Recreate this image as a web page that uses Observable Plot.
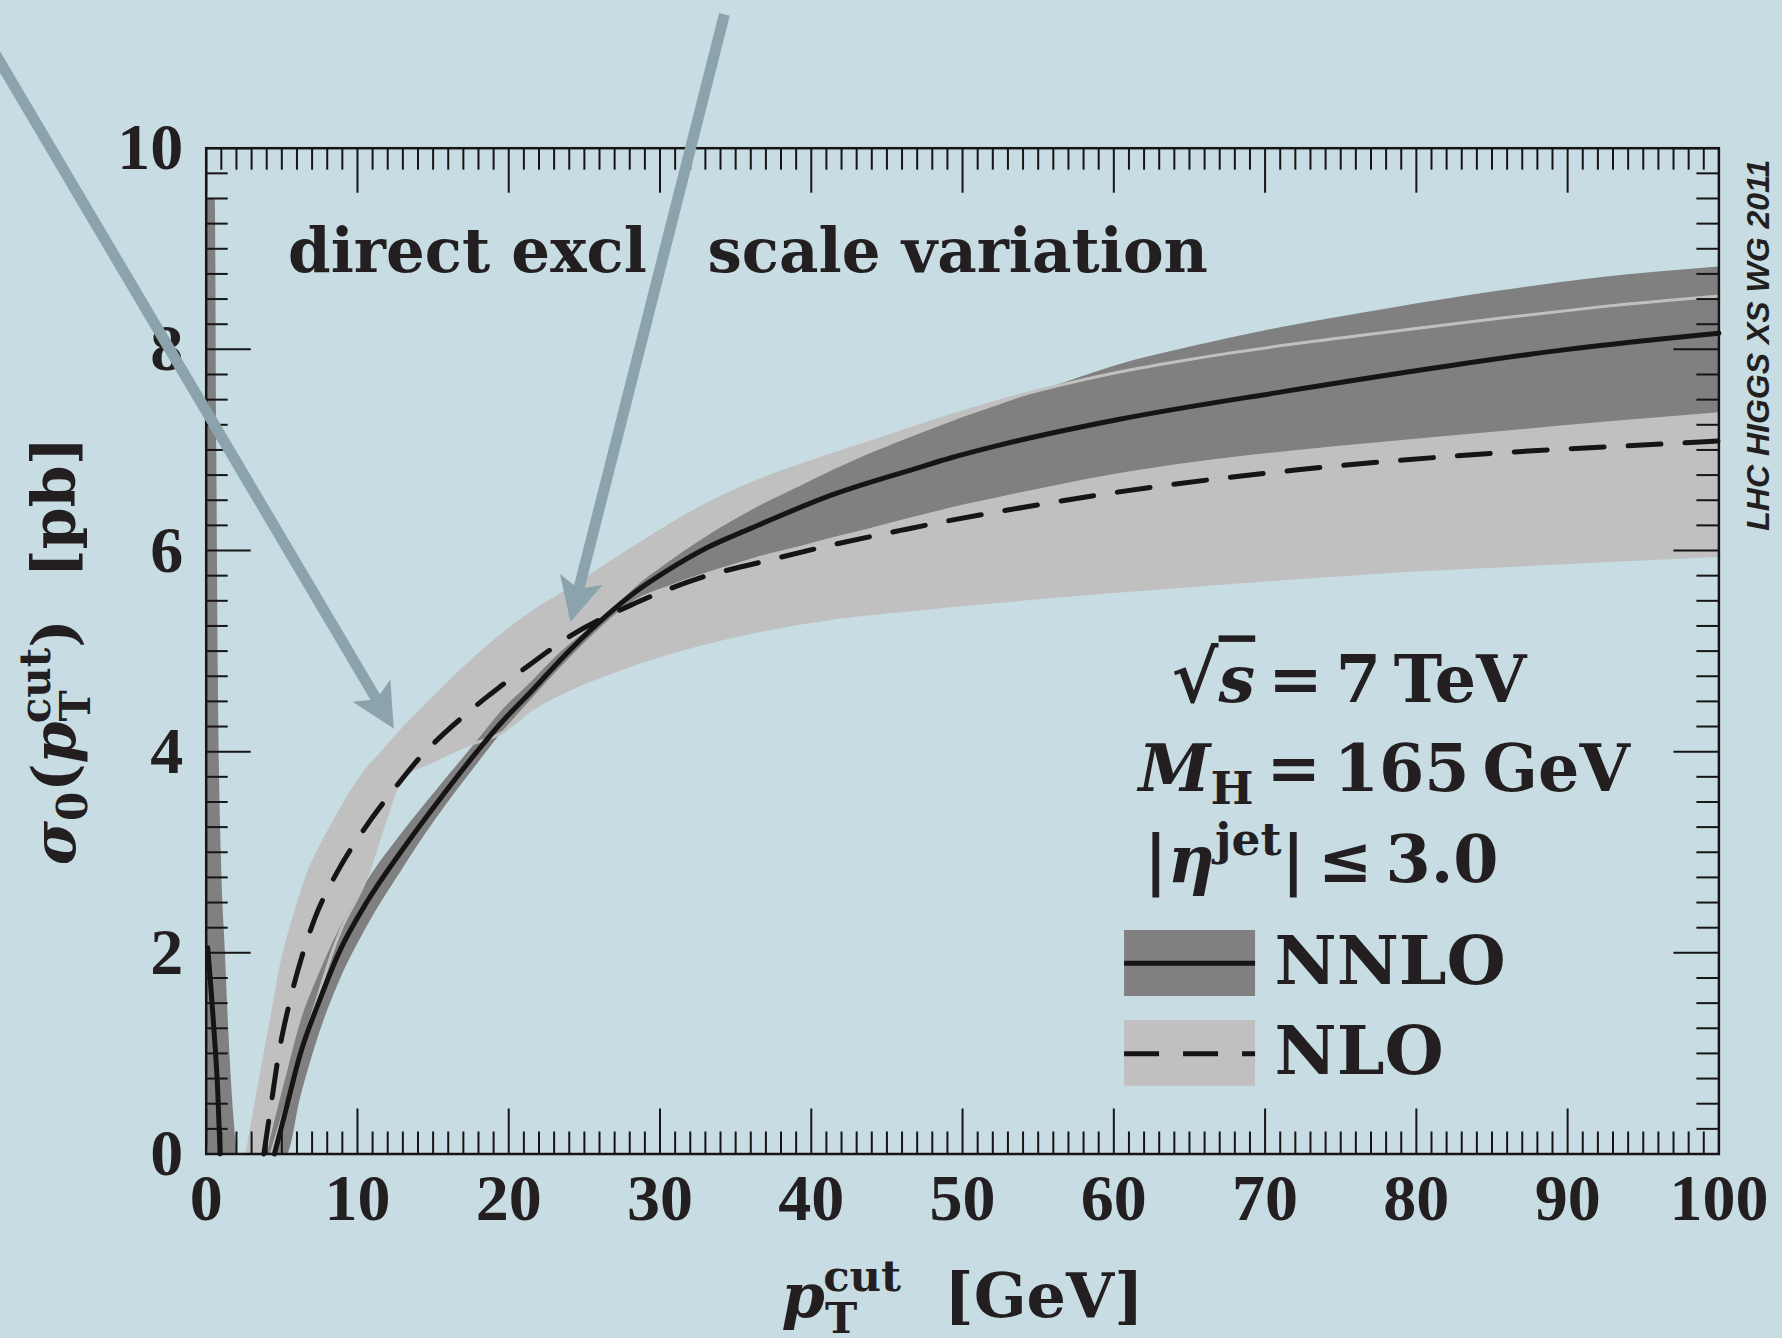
<!DOCTYPE html>
<html>
<head>
<meta charset="utf-8">
<script src="https://cdn.jsdelivr.net/npm/d3@7"></script>
<script src="https://cdn.jsdelivr.net/npm/@observablehq/plot@0.6"></script>
<style>
html, body { margin: 0; padding: 0; background: #c8dce3; overflow: hidden; }
#chart svg { display: block; }
</style>
</head>
<body>
<div id="chart"></div>
<script>
// ---------- data ----------
// NNLO central value (solid): low-pT branch and main branch
const nnloLowPt    = [0.1, 0.5, 0.77, 0.92];
const nnloLowSigma = [2.05, 1.26, 0.6, 0];
const nnloPt    = [4.51, 5.2, 6.23, 7.5, 8.77, 10.6, 12.85, 15.2, 17.9, 19.46, 21.5, 23.4, 26.07, 28.3, 30.47, 33, 36, 41.5, 47, 49.2, 52.5, 60.2, 71.2, 82.3, 90, 100];
const nnloSigma = [0, 0.4, 1.0, 1.53, 2.0, 2.5, 3.0, 3.48, 4.0, 4.28, 4.6, 4.91, 5.3, 5.58, 5.8, 6.02, 6.22, 6.56, 6.82, 6.92, 7.05, 7.3, 7.58, 7.84, 8.0, 8.16];

// NLO central value (dashed)
const nloPt    = [3.81, 4.3, 4.8, 5.5, 6.3, 7.2, 8.65, 10.4, 12.85, 14.0, 15.5, 17.0, 18.6, 19.46, 21.7, 23.86, 28.27, 32.7, 37.1, 41.5, 45.9, 49.2, 51.4, 60.2, 72, 84.4, 97.6, 100];
const nloSigma = [0, 0.5, 1.0, 1.5, 1.95, 2.35, 2.8, 3.22, 3.71, 3.92, 4.15, 4.35, 4.55, 4.65, 4.9, 5.13, 5.47, 5.73, 5.9, 6.06, 6.2, 6.3, 6.36, 6.58, 6.8, 6.96, 7.07, 7.09];

// NNLO scale-variation band (dark): low-pT branch and main branch
const nnloBandLowPt  = [0, 0.17, 0.6, 0.7, 0.8, 1.0, 1.27, 1.5, 1.72, 2.05];
const nnloBandLowMin = [0.5, 0, 0, 0, 0, 0, 0, 0, 0, 0];
const nnloBandLowMax = [9.5, 9.5, 9.5, 7.0, 4.8, 3.0, 2.0, 1.2, 0.6, 0];
const nnloBandPt  = [4.03, 4.5, 5.35, 6.23, 7.5, 8.77, 10.6, 12.85, 15.2, 17.9, 19.46, 21.5, 23.4, 25.3, 27.2, 28.3, 30.47, 32.7, 34.9, 37.1, 39.3, 41.5, 43.7, 46, 48.1, 50, 52.5, 56, 60.2, 65, 71.2, 78, 85.5, 92, 100];
const nnloBandMin = [0, 0, 0, 0.55, 1.2, 1.7, 2.25, 2.8, 3.33, 3.87, 4.17, 4.52, 4.83, 5.12, 5.38, 5.5, 5.64, 5.76, 5.86, 5.96, 6.04, 6.13, 6.21, 6.30, 6.38, 6.45, 6.53, 6.64, 6.76, 6.87, 6.98, 7.08, 7.18, 7.27, 7.37];
const nnloBandMax = [0, 0.3, 0.8, 1.3, 1.8, 2.22, 2.7, 3.17, 3.61, 4.1, 4.39, 4.69, 4.98, 5.22, 5.46, 5.62, 5.87, 6.1, 6.3, 6.48, 6.64, 6.80, 6.95, 7.09, 7.21, 7.32, 7.45, 7.63, 7.84, 8.02, 8.22, 8.40, 8.58, 8.71, 8.82];

// NLO scale-variation band (light)
const nloBandPt  = [2.7, 3.4, 4.2, 4.3, 5.0, 5.6, 6.0, 6.9, 7.3, 8.44, 8.88, 10.6, 11.8, 12.85, 15.05, 17.25, 19.46, 21.5, 23.86, 28.27, 32.7, 37.1, 41.5, 45.9, 49.2, 52.5, 55.8, 60.2, 65, 71.2, 78, 85.5, 92, 100];
const nloBandMin = [0, 0, 0, 0, 0.35, 0.65, 0.85, 1.33, 1.52, 2.05, 2.22, 2.75, 3.3, 3.72, 3.91, 4.06, 4.18, 4.42, 4.61, 4.87, 5.07, 5.22, 5.33, 5.4, 5.45, 5.495, 5.54, 5.595, 5.65, 5.72, 5.79, 5.845, 5.895, 5.95];
const nloBandMax = [0, 0.6, 1.25, 1.33, 1.9, 2.25, 2.45, 2.85, 2.98, 3.3, 3.42, 3.82, 4.02, 4.2, 4.54, 4.86, 5.15, 5.38, 5.6, 6.03, 6.43, 6.73, 6.96, 7.18, 7.34, 7.49, 7.62, 7.77, 7.9, 8.04, 8.17, 8.31, 8.42, 8.53];

// axes
const xTicks = [0, 10, 20, 30, 40, 50, 60, 70, 80, 90, 100];
const xTickLabels = ["0", "10", "20", "30", "40", "50", "60", "70", "80", "90", "100"];
const yTicks = [0, 2, 4, 6, 8, 10];
const yTickLabels = ["0", "2", "4", "6", "8", "10"];
const xMinorStep = 1, yMinorStep = 0.25;
const xLabel = "pTcut [GeV]";
const yLabel = "σ0(pTcut)\u00a0[pb]";

// annotations
const headerText = ["direct excl", "scale variation"];
const headerPt = [5.41, 33.14];
const headerSigma = [8.774, 8.774];
const noteText = ["√s = 7 TeV", "MH = 165 GeV", "|ηjet| ≤ 3.0"];
const notePt = [63.82, 61.63, 62.0];
const noteSigma = [4.49, 3.614, 2.70];
const legendNames = ["NNLO", "NLO"];
const legendFills = ["#808080", "#c0c0c0"];
const legendDash = [null, "35,24"];
const legendPt1 = [60.71, 60.71], legendPt2 = [69.37, 69.37];
const legendLo = [1.566, 0.674], legendHi = [2.222, 1.327];
const legendLineSigma = [1.897, 0.996];
const legendLabelPt = [70.62, 70.62];
const legendLabelSigma = [1.695, 0.80];
const stamp = "LHC HIGGS XS WG 2011";

// pointer arrows (tail -> tip)
const arrowTailPt = [-14.9, 34.26], arrowTailSigma = [11.18, 11.33];
const arrowTipPt = [12.40, 24.08], arrowTipSigma = [4.23, 5.29];

// ---------- layout / style ----------
const W = 1782, H = 1338;
const mL = 205.7, mR = 63.6, mT = 147.7, mB = 184.5;
const plotW = W - mL - mR, plotH = H - mT - mB;
const MAJ = 45, MIN = 22;
const ink = "#161414";
const txt = "#231f20";
const dark = "#808080", light = "#c0c0c0";
const arrowColor = "#8aa3ad";
const bg = "#c8dce3";
const curve = "monotone-x";
const serif = "DejaVu Serif";

const zipBand = (xs, lo, hi) => xs.map((x, i) => ({x, lo: lo[i], hi: hi[i]}));
const zipLine = (xs, ys) => xs.map((x, i) => ({x, y: ys[i]}));

const bandNLO = zipBand(nloBandPt, nloBandMin, nloBandMax);
const bandNNLOlow = zipBand(nnloBandLowPt, nnloBandLowMin, nnloBandLowMax);
const bandNNLO = zipBand(nnloBandPt, nnloBandMin, nnloBandMax);
const nloLoEdge = bandNLO.filter((d, i, a) => d.lo > 0 || (a[i + 1] && a[i + 1].lo > 0));
const lineNLO = zipLine(nloPt, nloSigma);
const lineNNLOlow = zipLine(nnloLowPt, nnloLowSigma);
const lineNNLO = zipLine(nnloPt, nnloSigma);

const xMinor = d3.range(0, 100.001, xMinorStep).filter(v => !xTicks.includes(v));
const yMinor = d3.range(0, 10.001, yMinorStep).filter(v => !yTicks.includes(v));

// arrows: shaft + filled head, geometry computed in pixel space from the scales' extents
const kx = plotW / 100, ky = plotH / 10;
const toPx = (x, y) => [mL + kx * x, mT + ky * (10 - y)];
const toData = (px, py) => ({x: (px - mL) / kx, y: 10 - (py - mT) / ky});
const shafts = [], heads = [];
arrowTipPt.forEach((_, i) => {
  const [sx, sy] = toPx(arrowTailPt[i], arrowTailSigma[i]);
  const [tx, ty] = toPx(arrowTipPt[i], arrowTipSigma[i]);
  const len = Math.hypot(tx - sx, ty - sy);
  const ux = (tx - sx) / len, uy = (ty - sy) / len;
  const nx = -uy, ny = ux;
  const L = 44, hw = 22, notch = 10;
  const bx = tx - L * ux, by = ty - L * uy;
  const cx = tx - (L - notch) * ux, cy = ty - (L - notch) * uy;
  shafts.push({id: i, ...toData(sx, sy)}, {id: i, ...toData(cx + 2 * ux, cy + 2 * uy)});
  heads.push({id: i, ...toData(tx, ty)}, {id: i, ...toData(bx + hw * nx, by + hw * ny)},
             {id: i, ...toData(cx, cy)}, {id: i, ...toData(bx - hw * nx, by - hw * ny)});
});

// rich-text (sub/superscripts) for some labels
const rich = {
  [yLabel]: [{t: "σ", it: 1}, {t: "0", size: 0.7, shift: 0.2}, {t: "(", shift: 0}, {t: "p", it: 1},
             {t: "T", size: 0.7, shift: 0.25}, {t: "cut", size: 0.7, shift: -0.42, dx: -0.47},
             {t: ")\u00a0\u00a0[pb]", shift: 0}],
  [xLabel]: [{t: "p", it: 1}, {t: "T", size: 0.7, shift: 0.25}, {t: "cut", size: 0.7, shift: -0.42, dx: -0.47},
             {t: "\u00a0\u00a0[GeV]", shift: 0}],
  [noteText[0]]: [{t: "√", size: 1.1}, {t: "s", it: 1, over: 1}, {t: "\u2009=\u20097\u2009TeV"}],
  [noteText[1]]: [{t: "M", it: 1}, {t: "H", size: 0.7, shift: 0.2}, {t: "\u2009=\u2009165\u2009GeV", shift: 0}],
  [noteText[2]]: [{t: "|"}, {t: "η", it: 1}, {t: "jet", size: 0.7, shift: -0.42}, {t: "|\u2009≤\u20093.0", shift: 0}]
};

const tickRule = (opts) => ({stroke: ink, strokeWidth: 2, ...opts});

const chart = Plot.plot({
  width: W, height: H,
  marginLeft: mL, marginRight: mR, marginTop: mT, marginBottom: mB,
  x: {domain: [0, 100], axis: null},
  y: {domain: [0, 10], axis: null},
  style: {background: bg, overflow: "visible"},
  marks: [
    // bands
    Plot.areaY(bandNLO, {x: "x", y1: "lo", y2: "hi", fill: light, curve}),
    Plot.areaY(bandNNLOlow, {x: "x", y1: "lo", y2: "hi", fill: dark, curve}),
    Plot.areaY(bandNNLO, {x: "x", y1: "lo", y2: "hi", fill: dark, curve}),
    Plot.line(bandNLO, {x: "x", y: "hi", stroke: light, strokeWidth: 3, curve}),
    Plot.line(nloLoEdge, {x: "x", y: "lo", stroke: light, strokeWidth: 3, curve}),
    // central lines
    Plot.line(lineNLO, {x: "x", y: "y", stroke: ink, strokeWidth: 5, strokeDasharray: "33,24", curve}),
    Plot.line(lineNNLOlow, {x: "x", y: "y", stroke: ink, strokeWidth: 5, curve}),
    Plot.line(lineNNLO, {x: "x", y: "y", stroke: ink, strokeWidth: 5, curve}),
    // inward ticks on all four sides
    Plot.ruleX(xTicks, tickRule({x: d => d, insetTop: plotH - MAJ})),
    Plot.ruleX(xMinor, tickRule({x: d => d, insetTop: plotH - MIN})),
    Plot.ruleX(xTicks, tickRule({x: d => d, insetBottom: plotH - MAJ})),
    Plot.ruleX(xMinor, tickRule({x: d => d, insetBottom: plotH - MIN})),
    Plot.ruleY(yTicks, tickRule({y: d => d, insetRight: plotW - MAJ})),
    Plot.ruleY(yMinor, tickRule({y: d => d, insetRight: plotW - MIN})),
    Plot.ruleY(yTicks, tickRule({y: d => d, insetLeft: plotW - MAJ})),
    Plot.ruleY(yMinor, tickRule({y: d => d, insetLeft: plotW - MIN})),
    Plot.frame({stroke: ink, strokeWidth: 2.5}),
    // tick labels
    Plot.text(xTicks, {x: d => d, text: (d, i) => xTickLabels[i], frameAnchor: "bottom", lineAnchor: "top", dy: 19,
      fontSize: 66, fontFamily: "Liberation Serif", fontWeight: "bold", fill: txt}),
    Plot.text(yTicks, {y: d => d, text: (d, i) => yTickLabels[i], frameAnchor: "left", textAnchor: "end", dx: -23,
      fontSize: 66, fontFamily: "Liberation Serif", fontWeight: "bold", fill: txt}),
    // axis titles
    Plot.text([xLabel], {frameAnchor: "bottom", textAnchor: "middle", lineAnchor: "bottom", dy: 163, fontSize: 62,
      fontFamily: serif, fontWeight: "bold", fill: txt}),
    Plot.text([yLabel], {frameAnchor: "left", textAnchor: "middle", lineAnchor: "bottom", dx: -131, rotate: -90, fontSize: 60,
      fontFamily: serif, fontWeight: "bold", fill: txt}),
    // header and notes
    Plot.text(headerText, {x: (d, i) => headerPt[i], y: (d, i) => headerSigma[i], textAnchor: "start", lineAnchor: "bottom",
      fontSize: 61, fontFamily: serif, fontWeight: "bold", fill: txt}),
    Plot.text(noteText, {x: (d, i) => notePt[i], y: (d, i) => noteSigma[i], textAnchor: "start", lineAnchor: "bottom",
      fontSize: 65, fontFamily: serif, fontWeight: "bold", fill: txt}),
    // legend
    Plot.rect(legendNames, {x1: (d, i) => legendPt1[i], x2: (d, i) => legendPt2[i], y1: (d, i) => legendLo[i], y2: (d, i) => legendHi[i],
      fill: (d, i) => legendFills[i]}),
    Plot.ruleY([legendLineSigma[0]], {y: d => d, x1: legendPt1[0], x2: legendPt2[0], stroke: ink, strokeWidth: 5}),
    Plot.ruleY([legendLineSigma[1]], {y: d => d, x1: legendPt1[1], x2: legendPt2[1], stroke: ink, strokeWidth: 5, strokeDasharray: legendDash[1]}),
    Plot.text(legendNames, {x: (d, i) => legendLabelPt[i], y: (d, i) => legendLabelSigma[i], textAnchor: "start", lineAnchor: "bottom",
      fontSize: 68, fontFamily: serif, fontWeight: "bold", fill: txt}),
    // stamp
    Plot.text([stamp], {frameAnchor: "top-right", textAnchor: "middle", lineAnchor: "middle", dx: 40, dy: 197, rotate: -90, fontSize: 32,
      fontFamily: "Liberation Sans", fontWeight: "bold", fontStyle: "italic", fill: txt}),
    // arrows
    Plot.line(shafts, {x: "x", y: "y", z: "id", stroke: arrowColor, strokeWidth: 11, strokeLinecap: "butt", curve: "linear"}),
    Plot.line(heads, {x: "x", y: "y", z: "id", fill: arrowColor, stroke: "none", curve: "linear"})
  ]
});

// convert plain labels into sub/superscript tspans
const NS = "http://www.w3.org/2000/svg";
chart.querySelectorAll("text").forEach(t => {
  const spec = rich[t.textContent];
  if (!spec) return;
  const F = parseFloat(t.closest("g").getAttribute("font-size")) || 60;
  t.textContent = "";
  let prev = 0;
  for (const p of spec) {
    const s = document.createElementNS(NS, "tspan");
    s.textContent = p.t;
    const shift = (p.shift === undefined ? prev / F : p.shift) * F;
    const dy = shift - prev;
    if (dy) s.setAttribute("dy", dy.toFixed(2));
    if (p.dx) s.setAttribute("dx", (p.dx * F).toFixed(2));
    if (p.size) s.setAttribute("font-size", (p.size * F).toFixed(2));
    if (p.it) s.setAttribute("font-style", "italic");
    if (p.over) s.setAttribute("text-decoration", "overline");
    prev = shift;
    t.appendChild(s);
  }
});

document.getElementById("chart").appendChild(chart);
</script>
</body>
</html>
